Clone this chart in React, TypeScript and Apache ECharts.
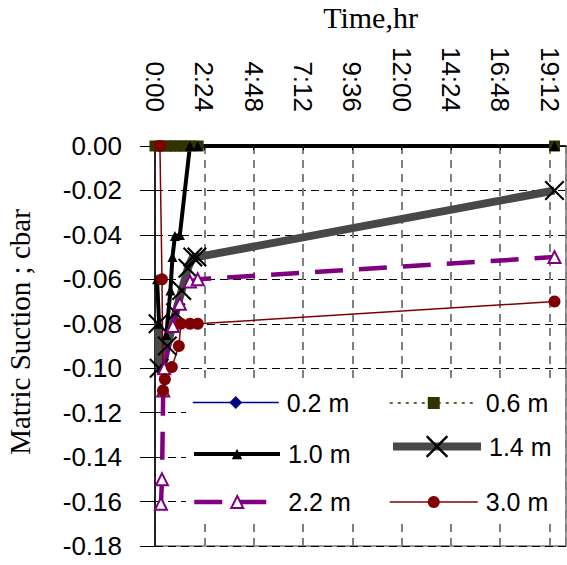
import React, { useEffect, useRef } from "react";
import * as echarts from "echarts";

// time in hours, matric suction in cbar
const s02: [number, number][] = [[0, 0], [0.24, 0], [0.5, 0], [0.75, 0], [1.0, 0], [1.25, 0], [1.5, 0], [1.75, 0], [2.1, 0], [19.44, 0]];
const s06: [number, number][] = [[0, 0], [0.24, 0], [0.5, 0], [0.75, 0], [1.0, 0], [1.25, 0], [1.5, 0], [1.75, 0], [2.1, 0], [19.44, 0]];
const s10: [number, number][] = [[0.1, -0.06], [0.2, -0.08], [0.3, -0.1], [0.55, -0.085], [0.75, -0.065], [0.85, -0.05], [0.97, -0.0405], [1.21, -0.04], [1.7, 0], [2.08, 0], [19.44, 0]];
const s14: [number, number][] = [[0.15, -0.08], [0.2, -0.1], [0.6, -0.09], [1.0, -0.075], [1.3, -0.065], [1.6, -0.055], [1.84, -0.05], [2.04, -0.05], [19.44, -0.02]];
const s22: [number, number][] = [[0.29, -0.161], [0.34, -0.15], [0.4, -0.11], [0.45, -0.1], [0.87, -0.081], [1.21, -0.071], [1.7, -0.061], [2.08, -0.06], [19.44, -0.05]];
const s30: [number, number][] = [[0.24, 0], [0.34, -0.06], [0.39, -0.11], [0.48, -0.105], [0.82, -0.0995], [1.16, -0.09], [1.26, -0.08], [1.7, -0.08], [2.08, -0.08], [19.44, -0.07]];

const seriesNames = ["0.2 m", "0.6 m", "1.0 m", "1.4 m", "2.2 m", "3.0 m"];
const xTickInterval = 2.4; // hours
const xMax = 20;
const yMin = -0.18;
const yMax = 0;
const yInterval = 0.02;

const SANS = "'Liberation Sans', Arial, sans-serif";
const SERIF = "'Liberation Serif', 'Times New Roman', serif";

const X_PATH = "path://M0,1.5L1.5,0L10,8.5L18.5,0L20,1.5L11.5,10L20,18.5L18.5,20L10,11.5L1.5,20L0,18.5L8.5,10Z";

function fmtTime(v: number): string {
  const mins = Math.round(v * 60);
  const h = Math.floor(mins / 60);
  const m = mins % 60;
  return `${h}:${m < 10 ? "0" + m : m}`;
}

export default function App() {
  const ref = useRef<HTMLDivElement>(null);
  useEffect(() => {
    if (!ref.current) return;
    const chart = echarts.init(ref.current, undefined, { renderer: "svg" });
    const legendItem = (name: string, left: number, centerY: number, ih: number, iw: number) => ({
      data: [name],
      left,
      top: centerY - ih / 2,
      padding: 0,
      itemWidth: iw,
      itemHeight: ih,
      itemGap: 0,
      selectedMode: false,
      lineStyle: { width: "inherit" },
      textStyle: { fontFamily: SANS, fontSize: 25, color: "#000", padding: [0, 0, 0, 3] },
      z: 5,
    });
    chart.setOption({
      animation: false,
      backgroundColor: "#fff",
      grid: { left: 155, right: 1, top: 146, bottom: 19, outerBoundsMode: "none", containLabel: false, show: true, borderColor: "#333", borderWidth: 1, backgroundColor: "transparent" },
      xAxis: {
        type: "value",
        position: "top",
        min: 0,
        max: xMax,
        interval: xTickInterval,
        name: "Time,hr",
        nameLocation: "middle",
        nameGap: 114,
        nameTextStyle: { fontFamily: SERIF, fontSize: 30, color: "#000", padding: [0, 0, 0, 20] },
        axisLine: { show: true, onZero: false, lineStyle: { color: "#000", width: 1.5 } },
        axisTick: { show: true, inside: true, length: 4, lineStyle: { color: "#000" } },
        axisLabel: { rotate: 90, margin: 34, fontFamily: SANS, fontSize: 26, color: "#000", showMaxLabel: false, formatter: (v: number) => fmtTime(v) },
        splitLine: { show: true, lineStyle: { color: "#808080", width: 2, type: [8, 6] } },
      },
      yAxis: {
        type: "value",
        min: yMin,
        max: yMax,
        interval: yInterval,
        name: "Matric Suction ; cbar",
        nameLocation: "middle",
        nameGap: 121,
        nameTextStyle: { fontFamily: SERIF, fontSize: 29, color: "#000", padding: [0, 0, 0, 28] },
        axisLine: { show: true, onZero: false, lineStyle: { color: "#000", width: 1.5 } },
        axisTick: { show: true, inside: false, length: 15, lineStyle: { color: "#000" } },
        axisLabel: { margin: 33, fontFamily: SANS, fontSize: 26, color: "#000", formatter: (v: number) => v.toFixed(2) },
        splitLine: { show: true, lineStyle: { color: "#000", width: 1, type: [8, 5] } },
      },
      graphic: [
        { type: "rect", z: 3, shape: { x: 186, y: 382, width: 379, height: 140 }, style: { fill: "#fff" } },
      ],
      legend: [
        legendItem(seriesNames[0], 192, 398, 16, 86),
        legendItem(seriesNames[2], 192, 448, 13, 86),
        legendItem(seriesNames[4], 192, 497, 15, 86),
        legendItem(seriesNames[1], 389, 398, 15, 88),
        legendItem(seriesNames[3], 389, 448, 28, 88),
        legendItem(seriesNames[5], 389, 497, 15, 88),
      ],
      series: [
        {
          name: seriesNames[0], type: "line", data: s02, symbol: "diamond", symbolSize: 11,
          lineStyle: { color: "#000080", width: 1.5 }, itemStyle: { color: "#000080" },
        },
        {
          name: seriesNames[1], type: "line", data: s06, symbol: "rect", symbolSize: 11,
          lineStyle: { color: "#333300", width: 1.5, type: [3, 5] }, itemStyle: { color: "#333300" },
        },
        {
          name: seriesNames[2], type: "line", data: s10, symbol: "triangle", symbolSize: 10,
          lineStyle: { color: "#000", width: 4 }, itemStyle: { color: "#000" },
        },
        {
          name: seriesNames[3], type: "line", data: s14, symbol: X_PATH, symbolSize: 20,
          lineStyle: { color: "#484848", width: 8 }, itemStyle: { color: "#000" },
        },
        {
          name: seriesNames[4], type: "line", data: s22, symbol: "emptyTriangle", symbolSize: 12,
          lineStyle: { color: "#800080", width: 4.5, type: [28, 16] }, itemStyle: { color: "#800080", borderWidth: 2 },
        },
        {
          name: seriesNames[5], type: "line", data: s30, symbol: "circle", symbolSize: 12,
          lineStyle: { color: "#800000", width: 1.5 }, itemStyle: { color: "#800000" },
        },
      ],
    });
    return () => chart.dispose();
  }, []);
  return <div ref={ref} style={{ width: 567, height: 565, position: "absolute", left: 0, top: 0 }} />;
}
